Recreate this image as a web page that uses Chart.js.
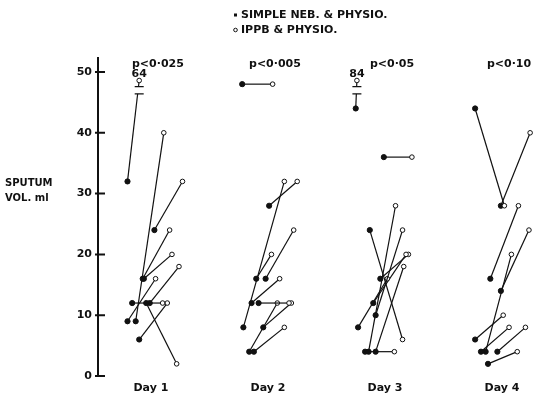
<!DOCTYPE html>
<html>
<head>
<meta charset="utf-8">
<script src="https://cdn.jsdelivr.net/npm/chart.js@4.4.1/dist/chart.umd.min.js"></script>
<style>
    html, body { margin: 0; padding: 0; background: #fff; }
    #wrap { width: 537px; height: 396px; position: relative; }
</style>
</head>
<body>
<div id="wrap"><canvas id="sputumchart"></canvas></div>
<script>
var days = ['Day 1', 'Day 2', 'Day 3', 'Day 4'];
var pLabels = ['p<0·025', 'p<0·005', 'p<0·05', 'p<0·10'];
var yTicks = [0, 10, 20, 30, 40, 50];
var seriesNames = ['SIMPLE NEB. & PHYSIO.', 'IPPB & PHYSIO.'];

// sputum volume (ml), one entry per patient, simple neb first, IPPB second
var day1Simple = [32, 24, 9, 9, 16, 16, 12, 6, 12, 12];
var day1Ippb   = [64, 32, 40, 16, 24, 20, 12, 12, 2, 18];
var day2Simple = [48, 28, 8, 16, 16, 12, 12, 4, 8, 4];
var day2Ippb   = [48, 32, 32, 24, 20, 16, 12, 12, 12, 8];
var day3Simple = [44, 36, 24, 4, 10, 8, 12, 16, 4, 4];
var day3Ippb   = [84, 36, 6, 28, 24, 16, 20, 20, 18, 4];
var day4Simple = [44, 28, 16, 14, 4, 6, 4, 4, 2];
var day4Ippb   = [28, 40, 28, 24, 20, 10, 8, 8, 4];

// horizontal spread of the points inside each day column (day units)
var day1SimpleX = [-0.20, 0.03, -0.13, -0.20, -0.07, -0.06, -0.16, -0.10, -0.04, -0.01];
var day1IppbX   = [-0.10, 0.27, 0.11, 0.04, 0.16, 0.18, 0.10, 0.14, 0.22, 0.24];
var day2SimpleX = [-0.22, 0.01, -0.21, -0.02, -0.10, -0.14, -0.08, -0.16, -0.04, -0.12];
var day2IppbX   = [0.04, 0.25, 0.14, 0.22, 0.03, 0.10, 0.18, 0.08, 0.20, 0.14];
var day3SimpleX = [-0.25, -0.01, -0.13, -0.14, -0.08, -0.23, -0.10, -0.04, -0.08, -0.17];
var day3IppbX   = [-0.24, 0.23, 0.15, 0.09, 0.15, 0.02, 0.18, 0.20, 0.16, 0.08];
var day4SimpleX = [-0.23, -0.01, -0.10, -0.01, -0.14, -0.23, -0.18, -0.04, -0.12];
var day4IppbX   = [0.02, 0.24, 0.14, 0.23, 0.08, 0.01, 0.06, 0.20, 0.13];

var simpleVals = [day1Simple, day2Simple, day3Simple, day4Simple];
var ippbVals = [day1Ippb, day2Ippb, day3Ippb, day4Ippb];
var simpleXs = [day1SimpleX, day2SimpleX, day3SimpleX, day4SimpleX];
var ippbXs = [day1IppbX, day2IppbX, day3IppbX, day4IppbX];

var ink = '#111';
var textFont = 'DejaVu Sans';
var brokenShown = 48.6; // values off the scale are drawn here, with an axis break below

var datasets = [];
simpleVals.forEach(function (vals, d) {
    vals.forEach(function (v, i) {
        var after = ippbVals[d][i];
        datasets.push({
            realValue: after,
            data: [
                { x: d + 1 + simpleXs[d][i], y: v },
                { x: d + 1 + ippbXs[d][i], y: after > 50 ? brokenShown : after }
            ],
            showLine: true,
            borderColor: ink,
            borderWidth: 1.2,
            pointRadius: [2.6, 2.3],
            pointBackgroundColor: [ink, '#fff'],
            pointBorderColor: ink,
            pointBorderWidth: 1,
            clip: false
        });
    });
});

// texts, axis ticks, breaks and the legend drawn by hand
var extras = {
    id: 'extras',
    afterDatasetsDraw: function (chart) {
        var ctx = chart.ctx;
        var xs = chart.scales.x, ys = chart.scales.y;
        ctx.save();
        // broken values
        chart.data.datasets.forEach(function (ds) {
            if (ds.realValue <= 50) return;
            var px = xs.getPixelForValue(ds.data[1].x);
            var lo = ys.getPixelForValue(46.4), hi = ys.getPixelForValue(47.6);
            ctx.fillStyle = '#fff';
            ctx.fillRect(px - 5, hi, 10, lo - hi);
            ctx.strokeStyle = ink;
            ctx.lineWidth = 1.2;
            ctx.beginPath();
            ctx.moveTo(px - 4.5, lo); ctx.lineTo(px + 4.5, lo);
            ctx.moveTo(px - 4.5, hi); ctx.lineTo(px + 4.5, hi);
            ctx.stroke();
            ctx.fillStyle = ink;
            ctx.font = 'bold 11px "' + textFont + '"';
            ctx.textAlign = 'center';
            ctx.textBaseline = 'bottom';
            ctx.fillText(String(ds.realValue), px, ys.getPixelForValue(brokenShown) - 1);
        });
        // p values above each day
        ctx.fillStyle = ink;
        ctx.font = 'bold 11px "' + textFont + '"';
        ctx.textAlign = 'center';
        ctx.textBaseline = 'middle';
        pLabels.forEach(function (t, i) {
            ctx.fillText(t, xs.getPixelForValue(i + 1.06), ys.getPixelForValue(51.3));
        });
        // tick marks on the inner side of the axis
        ctx.strokeStyle = ink;
        ctx.lineWidth = 2;
        ctx.beginPath();
        yTicks.forEach(function (v) {
            var py = ys.getPixelForValue(v);
            ctx.moveTo(chart.chartArea.left - 3, py);
            ctx.lineTo(chart.chartArea.left + 7, py);
        });
        ctx.stroke();
        // y axis caption
        ctx.font = 'bold 10px "' + textFont + '"';
        ctx.textAlign = 'left';
        ctx.fillText('SPUTUM', 5, 183);
        ctx.fillText('VOL. ml', 5, 198);
        // legend
        ctx.font = 'bold 11px "' + textFont + '"';
        ctx.fillText(seriesNames[0], 241, 15);
        ctx.fillText(seriesNames[1], 241, 30);
        ctx.fillRect(234, 13.5, 3, 3);
        ctx.lineWidth = 1;
        ctx.fillStyle = '#fff';
        ctx.beginPath();
        ctx.arc(235.5, 30, 1.8, 0, Math.PI * 2);
        ctx.fill();
        ctx.stroke();
        ctx.restore();
    }
};

var chart1 = document.getElementById('sputumchart');
var myChart1 = new Chart(chart1, {
    type: 'scatter',
    data: { datasets: datasets },
    plugins: [extras],
    options: {
        responsive: true,
        maintainAspectRatio: false,
        animation: false,
        layout: { padding: { top: 58, left: 0, right: 0, bottom: 0 } },
        scales: {
            x: {
                type: 'linear',
                min: 0.548,
                max: 4.256,
                afterBuildTicks: function (s) {
                    s.ticks = days.map(function (d, i) { return { value: i + 1 }; });
                },
                afterFit: function (s) { s.height = 20; },
                border: { display: false },
                grid: { display: false, drawTicks: false },
                ticks: {
                    autoSkip: false,
                    maxRotation: 0,
                    padding: 6,
                    color: ink,
                    font: { family: textFont, weight: 'bold', size: 11 },
                    callback: function (v, i) { return days[i]; }
                }
            },
            y: {
                type: 'linear',
                min: 0,
                max: 52.3,
                afterBuildTicks: function (s) {
                    s.ticks = yTicks.map(function (v) { return { value: v }; });
                },
                afterFit: function (s) { s.width = 98; },
                border: { display: true, color: ink, width: 2 },
                grid: { display: false, drawTicks: false },
                ticks: {
                    padding: 6,
                    color: ink,
                    font: { family: textFont, weight: 'bold', size: 11 }
                }
            }
        },
        plugins: {
            legend: { display: false },
            title: { display: false },
            tooltip: { enabled: false }
        }
    }
});
</script>
</body>
</html>
